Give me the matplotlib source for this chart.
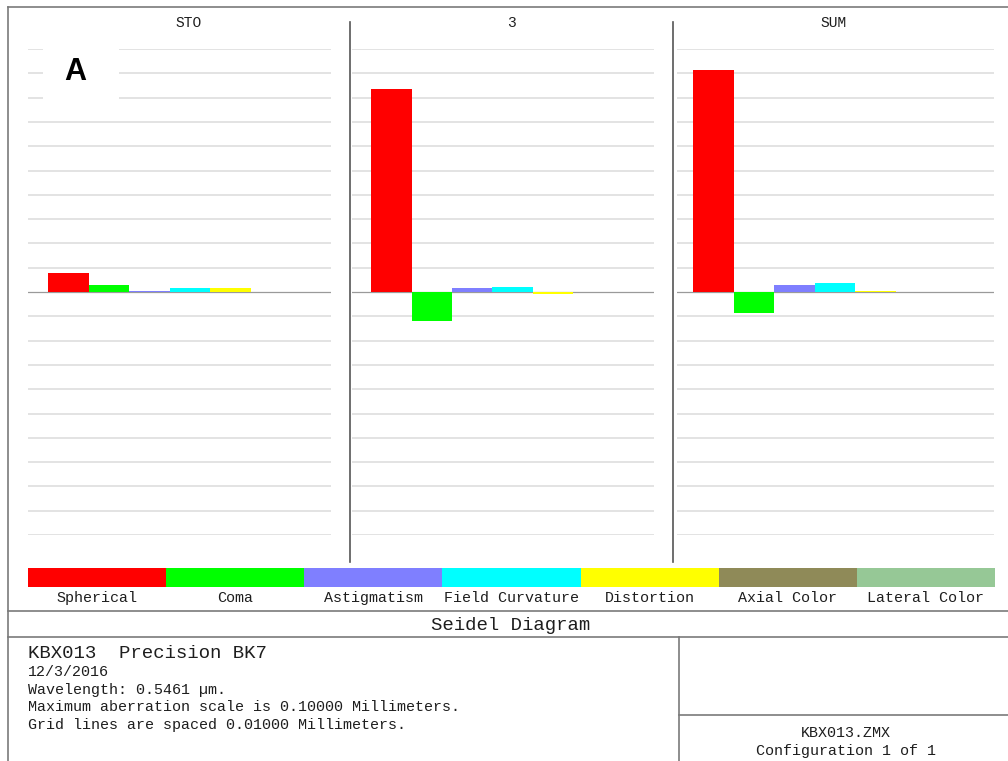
import numpy as np
import matplotlib.pyplot as plt
from matplotlib.patches import Rectangle

# data (mm)
surfaces = ['STO', '3', 'SUM']
aberrations = ['Spherical', 'Coma', 'Astigmatism', 'Field Curvature',
               'Distortion', 'Axial Color', 'Lateral Color']
sto_vals = [0.0078, 0.0030, 0.0006, 0.0018, 0.0015, 0.0, 0.0]
s3_vals = [0.0835, -0.0118, 0.0018, 0.0019, -0.0007, 0.0, 0.0]
sum_vals = [0.0912, -0.0087, 0.0028, 0.0037, 0.0006, 0.0, 0.0]
max_scale = 0.1
grid_step = 0.01

colors = ['#ff0000', '#00ff00', '#7f7fff', '#00ffff',
          '#ffff00', '#8f8a58', '#96c896']

W, H = 1008, 761
fig = plt.figure(figsize=(W / 100, H / 100), dpi=100)
fig.patch.set_facecolor('white')

mono = 'Liberation Mono'
txt_col = '#1e1e1e'


def px_axes(x0, y0, x1, y1, z=1):
    # axes placed by pixel box (top-left origin)
    return fig.add_axes([x0 / W, 1 - y1 / H, (x1 - x0) / W, (y1 - y0) / H], zorder=z)


# panels: grid extent and left edge of first bar, in pixels
grid_x = [(28, 331), (352, 654), (677, 994)]
bar0 = [48, 371, 693]
bar_w = 40.5
y_top, y_bot = 49, 535

for i, vals in enumerate([sto_vals, s3_vals, sum_vals]):
    gx0, gx1 = grid_x[i]
    ax = px_axes(gx0, y_top, gx1, y_bot)
    ax.set_xlim((gx0 - bar0[i]) / bar_w, (gx1 - bar0[i]) / bar_w)
    ax.set_ylim(-max_scale, max_scale)
    for k in np.arange(-10, 11):
        if k == 0:
            continue
        ax.axhline(k * grid_step, color='#dedede', lw=1.2, zorder=0)
    ax.axhline(0, color='#9a9a9a', lw=0.9, zorder=1)
    ax.bar(np.arange(len(vals)), vals, width=1, align='edge',
           color=colors, linewidth=0, zorder=2)
    ax.axis('off')

# overlay for frame, legend strip and text
ov = px_axes(0, 0, W, H, z=5)
ov.set_xlim(0, W)
ov.set_ylim(H, 0)
ov.axis('off')

frame = '#7a7a7a'
ov.plot([8, W], [7, 7], color=frame, lw=1.2)
ov.plot([8, 8], [7, H], color=frame, lw=1.2)
ov.plot([8, W], [611, 611], color=frame, lw=1.2)
ov.plot([8, W], [637, 637], color=frame, lw=1.2)
ov.plot([679, 679], [637, H], color=frame, lw=1.2)
ov.plot([679, W], [715, 715], color=frame, lw=1.2)

# panel dividers
for xd in [350, 673]:
    ov.plot([xd, xd], [22, 562], color='#555555', lw=1.2)

# panel titles
for name, xc in zip(surfaces, [189, 511, 834]):
    ov.text(xc, 23, name, ha='center', va='center', fontsize=10.5,
            family=mono, color=txt_col)

# "A" label on white box
ov.add_patch(Rectangle((43, 42), 76, 60, facecolor='white', edgecolor='none'))
ov.text(75, 72, 'A', ha='center', va='center', fontsize=22,
        family='Liberation Sans', fontweight='bold', color='black')

# legend strip
leg_x0, leg_x1 = 28, 995
seg = (leg_x1 - leg_x0) / len(aberrations)
for j, (lab, c) in enumerate(zip(aberrations, colors)):
    ov.add_patch(Rectangle((leg_x0 + j * seg, 568), seg, 19,
                           facecolor=c, edgecolor='none'))
    ov.text(leg_x0 + (j + 0.5) * seg, 598, lab, ha='center', va='center',
            fontsize=10.8, family=mono, color=txt_col)

ov.text(511, 625, 'Seidel Diagram', ha='center', va='center',
        fontsize=13.7, family=mono, color=txt_col)

# info block
ov.text(28, 654, 'KBX013  Precision BK7', ha='left', va='center',
        fontsize=13.7, family=mono, color=txt_col)
info_lines = ['12/3/2016',
              'Wavelength: 0.5461 \u00b5m.',
              'Maximum aberration scale is 0.10000 Millimeters.',
              'Grid lines are spaced 0.01000 Millimeters.']
for line, yy in zip(info_lines, [672, 690, 707, 725]):
    ov.text(28, yy, line, ha='left', va='center', fontsize=10.8,
            family=mono, color=txt_col)

ov.text(846, 733, 'KBX013.ZMX', ha='center', va='center', fontsize=10.8,
        family=mono, color=txt_col)
ov.text(846, 751, 'Configuration 1 of 1', ha='center', va='center',
        fontsize=10.8, family=mono, color=txt_col)

plt.savefig('out.png', dpi=100)
plt.close()
